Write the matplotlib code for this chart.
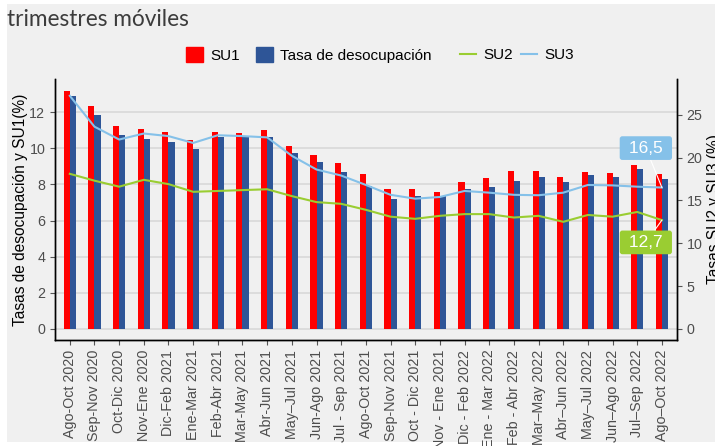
import matplotlib
matplotlib.use("Agg")
import matplotlib.pyplot as plt
from matplotlib.patches import Rectangle, Patch
from matplotlib.lines import Line2D
import numpy as np

plt.rcParams['font.family'] = ['Liberation Sans', 'DejaVu Sans']

periods = ["Ago-Oct 2020", "Sep-Nov 2020", "Oct-Dic 2020", "Nov-Ene 2020", "Dic-Feb 2021",
           "Ene-Mar 2021", "Feb-Abr 2021", "Mar-May 2021", "Abr-Jun 2021", "May\u2013Jul 2021",
           "Jun-Ago 2021", "Jul - Sep 2021", "Ago-Oct 2021", "Sep-Nov 2021", "Oct - Dic 2021",
           "Nov - Ene 2021", "Dic - Feb 2022", "Ene - Mar 2022", "Feb - Abr 2022", "Mar\u2013May 2022",
           "Abr\u2013Jun 2022", "May\u2013Jul 2022", "Jun\u2013Ago 2022", "Jul\u2013Sep 2022", "Ago\u2013Oct 2022"]
su1 = [13.2, 12.35, 11.24, 11.09, 10.91, 10.47, 10.91, 10.85, 11.0, 10.13, 9.63, 9.19,
       8.56, 7.75, 7.75, 7.59, 8.14, 8.34, 8.73, 8.75, 8.40, 8.71, 8.66, 9.06, 8.56]
desocupacion = [12.92, 11.83, 10.76, 10.54, 10.35, 9.98, 10.61, 10.65, 10.63, 9.73, 9.25, 8.71,
                7.92, 7.20, 7.36, 7.36, 7.75, 7.86, 8.19, 8.40, 8.12, 8.53, 8.43, 8.86, 8.29]
su2 = [18.1, 17.3, 16.6, 17.4, 16.9, 16.0, 16.1, 16.2, 16.3, 15.5, 14.8, 14.6,
       13.9, 13.1, 12.85, 13.2, 13.4, 13.4, 13.0, 13.2, 12.5, 13.3, 13.1, 13.65, 12.7]
su3 = [27.2, 23.6, 22.1, 22.8, 22.5, 21.7, 22.6, 22.5, 22.35, 20.2, 18.6, 17.9,
       16.8, 15.65, 15.2, 15.4, 16.1, 15.9, 15.65, 15.6, 15.9, 16.8, 16.75, 16.6, 16.5]

W, H = 715, 446
fig = plt.figure(figsize=(W / 100, H / 100), dpi=100, facecolor='white')
fig.patches.append(Rectangle((7 / W, 4 / H), 1 - 7 / W, (442 - 4) / H, transform=fig.transFigure,
                             facecolor='#F0F0F0', edgecolor='none', zorder=-10))

ax = fig.add_axes([55 / W, (H - 340) / H, (676.7 - 55) / W, (340 - 79) / H])
ax.set_facecolor('#F0F0F0')
x = np.arange(len(periods))
w = 0.245
ax.bar(x - w / 2, su1, w, color='#FF0000', zorder=2)
ax.bar(x + w / 2, desocupacion, w, color='#2E5597', zorder=2)
ax.set_xlim(-0.6, len(periods) - 0.4)
ylo, yhi = -0.61, 13.84
ax.set_ylim(ylo, yhi)
ax.set_yticks(range(0, 13, 2))
ax.grid(axis='y', color='#D6D6D6', lw=1.1)
ax.set_axisbelow(True)
ax.set_xticks(x)
ax.set_xticklabels(periods, rotation=90, fontsize=10.3, color='#4D4D4D')
ax.tick_params(axis='y', labelsize=10.3, labelcolor='#4D4D4D', color='#555555', length=3.5)
ax.tick_params(axis='x', color='#555555', length=3.5)
ax.set_ylabel('Tasas de desocupación y SU1(%)', fontsize=11.2, color='black')
ax.yaxis.set_label_coords(-0.0434, 0.5)

ratio = 2.107
ax2 = ax.twinx()
ax2.set_ylim(ylo * ratio, yhi * ratio)
ax2.plot(x, su2, color='#9ACD32', lw=1.5)
ax2.plot(x, su3, color='#85C1E9', lw=1.5)
ax2.set_yticks(range(0, 26, 5))
ax2.tick_params(axis='y', labelsize=10.3, labelcolor='#4D4D4D', color='#555555', length=3.5)
ax2.set_ylabel('Tasas SU2 y SU3 (%)', fontsize=11.2, color='black', rotation=90)
ax2.yaxis.set_label_coords(1.0487, 0.5)

for a in (ax, ax2):
    a.spines['top'].set_visible(False)
    for s in ('left', 'right', 'bottom'):
        a.spines[s].set_color('black')
        a.spines[s].set_linewidth(1.0)

ax2.annotate(' 16,5 ', xy=(x[-1], su3[-1]), xytext=(23.35, 21.1), textcoords='data',
             ha='center', va='center', fontsize=12.5, color='white',
             bbox=dict(boxstyle='round,pad=0.25,rounding_size=0.15', fc='#85C1E9', ec='none'),
             arrowprops=dict(arrowstyle='-', color='white', lw=0.8, shrinkA=0, shrinkB=0))
ax2.annotate(' 12,7 ', xy=(x[-1], su2[-1]), xytext=(23.35, 10.1), textcoords='data',
             ha='center', va='center', fontsize=12.5, color='white',
             bbox=dict(boxstyle='round,pad=0.25,rounding_size=0.15', fc='#9ACD32', ec='none'),
             arrowprops=dict(arrowstyle='-', color='white', lw=0.8, shrinkA=0, shrinkB=0))

h1 = [Patch(color='#FF0000'), Patch(color='#2E5597')]
fig.legend(h1, ['SU1', 'Tasa de desocupación'], loc='center', bbox_to_anchor=(309 / W, (H - 55) / H),
           ncol=2, frameon=False, fontsize=11, handlelength=1.1, handleheight=1.1,
           handletextpad=0.5, columnspacing=1.0)
h2 = [Line2D([], [], color='#9ACD32', lw=1.5), Line2D([], [], color='#85C1E9', lw=1.5)]
fig.legend(h2, ['SU2', 'SU3'], loc='center', bbox_to_anchor=(517 / W, (H - 55) / H),
           ncol=2, frameon=False, fontsize=11, handlelength=1.05,
           handletextpad=0.5, columnspacing=0.5)

fig.text(7 / W, 1 - 26 / H, 'trimestres móviles', fontfamily=['Lato', 'DejaVu Sans'],
         fontsize=16.3, color='#3C3C3C', va='baseline', ha='left')

fig.savefig('out.png', dpi=100, facecolor='white')
